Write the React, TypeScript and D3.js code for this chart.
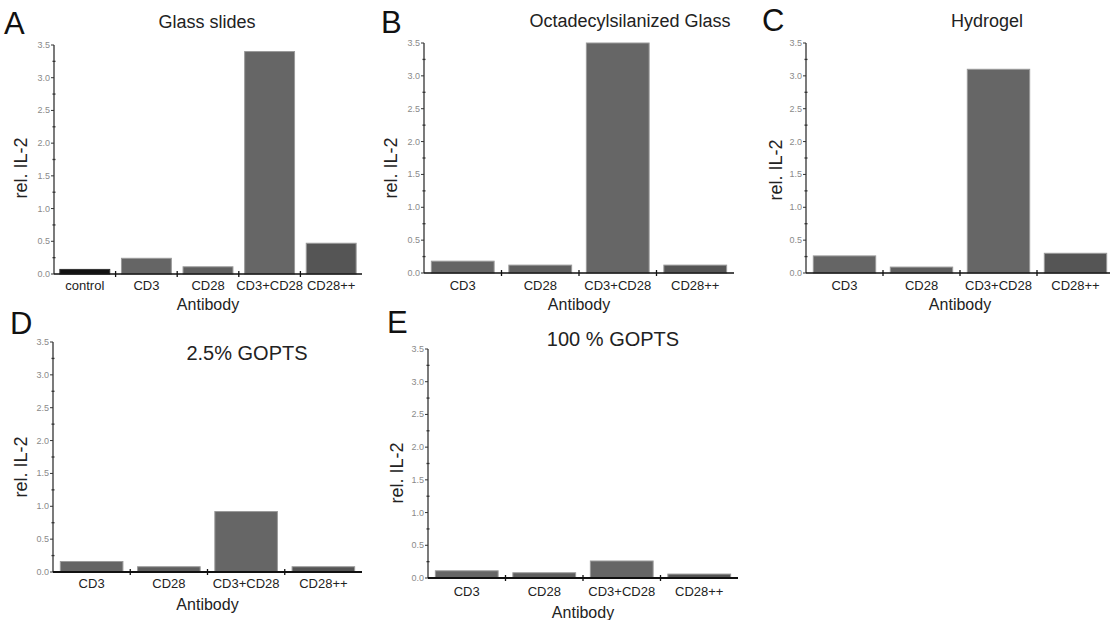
import React from "react";
import * as d3 from "d3";

const catsA = ["control", "CD3", "CD28", "CD3+CD28", "CD28++"];
const cats4 = ["CD3", "CD28", "CD3+CD28", "CD28++"];

const valuesA = [0.07, 0.24, 0.11, 3.4, 0.47];
const valuesB = [0.18, 0.12, 3.5, 0.12];
const valuesC = [0.26, 0.09, 3.1, 0.3];
const valuesD = [0.16, 0.08, 0.92, 0.08];
const valuesE = [0.11, 0.08, 0.26, 0.06];

const yTicks = [0, 0.5, 1.0, 1.5, 2.0, 2.5, 3.0, 3.5];
const yMinor = [0.25, 0.75, 1.25, 1.75, 2.25, 2.75, 3.25];

const titles = ["Glass slides", "Octadecylsilanized Glass", "Hydrogel", "2.5% GOPTS", "100 % GOPTS"];
const letters = ["A", "B", "C", "D", "E"];

const catColor: Record<string, string> = {
  control: "#121212",
  CD3: "#656565",
  CD28: "#5f5f5f",
  "CD3+CD28": "#666666",
  "CD28++": "#555555",
};

type Layout = {
  x0: number; x1: number; yTop: number; yBot: number;
  letterX: number; letterY: number;
  titleX: number; titleY: number; titleSize: number;
  ylabX: number; ylabY: number;
  tickY: number; antY: number; axisW: number;
};

const layouts: Layout[] = [
  { x0: 54, x1: 362, yTop: 45, yBot: 274, letterX: 4, letterY: 34, titleX: 207, titleY: 28, titleSize: 18, ylabX: 27, ylabY: 168, tickY: 290, antY: 310, axisW: 1.3 },
  { x0: 424, x1: 734, yTop: 43, yBot: 273, letterX: 381, letterY: 33, titleX: 630, titleY: 27, titleSize: 18, ylabX: 397, ylabY: 168, tickY: 290, antY: 310, axisW: 1.3 },
  { x0: 806, x1: 1114, yTop: 43, yBot: 273, letterX: 762, letterY: 31, titleX: 987, titleY: 27, titleSize: 18, ylabX: 782, ylabY: 170, tickY: 290, antY: 310, axisW: 1.3 },
  { x0: 53, x1: 362, yTop: 342, yBot: 572, letterX: 10, letterY: 334, titleX: 247, titleY: 360, titleSize: 20, ylabX: 27, ylabY: 467, tickY: 588, antY: 610, axisW: 2 },
  { x0: 428, x1: 738, yTop: 349, yBot: 578, letterX: 387, letterY: 333, titleX: 613, titleY: 346, titleSize: 20, ylabX: 403, ylabY: 473, tickY: 596, antY: 618, axisW: 2 },
];

const panelData: { cats: string[]; vals: number[] }[] = [
  { cats: catsA, vals: valuesA },
  { cats: cats4, vals: valuesB },
  { cats: cats4, vals: valuesC },
  { cats: cats4, vals: valuesD },
  { cats: cats4, vals: valuesE },
];

const FONT = "'Liberation Sans', Arial, Helvetica, sans-serif";

function Panel({ i }: { i: number }) {
  const L = layouts[i];
  const { cats, vals } = panelData[i];
  const x = d3.scaleBand<string>().domain(cats).range([L.x0, L.x1]).paddingInner(0.19).paddingOuter(0.095);
  const y = d3.scaleLinear().domain([0, 3.5]).range([L.yBot, L.yTop]);
  const step = x.step();
  const bounds = d3.range(1, cats.length).map((k) => L.x0 + k * step);
  return (
    <g fontFamily={FONT}>
      <text x={L.letterX} y={L.letterY} fontSize={31} fill="#111">{letters[i]}</text>
      <text x={L.titleX} y={L.titleY} fontSize={L.titleSize} textAnchor="middle" fill="#222">{titles[i]}</text>
      {cats.map((c, k) => (
        <rect key={c} x={x(c)!} y={y(vals[k])} width={x.bandwidth()} height={y(0) - y(vals[k])}
          fill={catColor[c]} stroke={c === "control" ? "#333" : "#9a9a9a"} strokeWidth={1} />
      ))}
      <line x1={L.x0} x2={L.x0} y1={L.yTop} y2={L.yBot} stroke="#333" strokeWidth={1.3} />
      {yTicks.map((t) => (
        <g key={t}>
          <line x1={L.x0 - 3} x2={L.x0} y1={y(t)} y2={y(t)} stroke="#333" strokeWidth={1} />
          <text x={L.x0 - 4} y={y(t) + 3} fontSize={9} textAnchor="end" fill="#8a8a8a">{t.toFixed(1)}</text>
        </g>
      ))}
      {yMinor.map((t) => (
        <line key={t} x1={L.x0 - 1.5} x2={L.x0 + 1.5} y1={y(t)} y2={y(t)} stroke="#333" strokeWidth={1.3} />
      ))}
      <line x1={L.x0} x2={L.x1} y1={L.yBot} y2={L.yBot} stroke="#111" strokeWidth={L.axisW} />
      {bounds.map((b) => (
        <line key={b} x1={b} x2={b} y1={L.yBot - 3} y2={L.yBot + 3} stroke="#111" strokeWidth={1.3} />
      ))}
      {cats.map((c) => (
        <text key={c} x={x(c)! + x.bandwidth() / 2} y={L.tickY} fontSize={13} textAnchor="middle" fill="#222">{c}</text>
      ))}
      <text x={(L.x0 + L.x1) / 2} y={L.antY} fontSize={16} textAnchor="middle" fill="#222">Antibody</text>
      <text transform={`translate(${L.ylabX},${L.ylabY}) rotate(-90)`} fontSize={18} textAnchor="middle" fill="#222">rel. IL-2</text>
    </g>
  );
}

export default function App() {
  return (
    <svg width={1110} height={620} style={{ position: "absolute", left: 0, top: 0, background: "#fff" }}>
      <rect width={1110} height={620} fill="#fff" />
      {layouts.map((_, i) => <Panel key={i} i={i} />)}
    </svg>
  );
}
